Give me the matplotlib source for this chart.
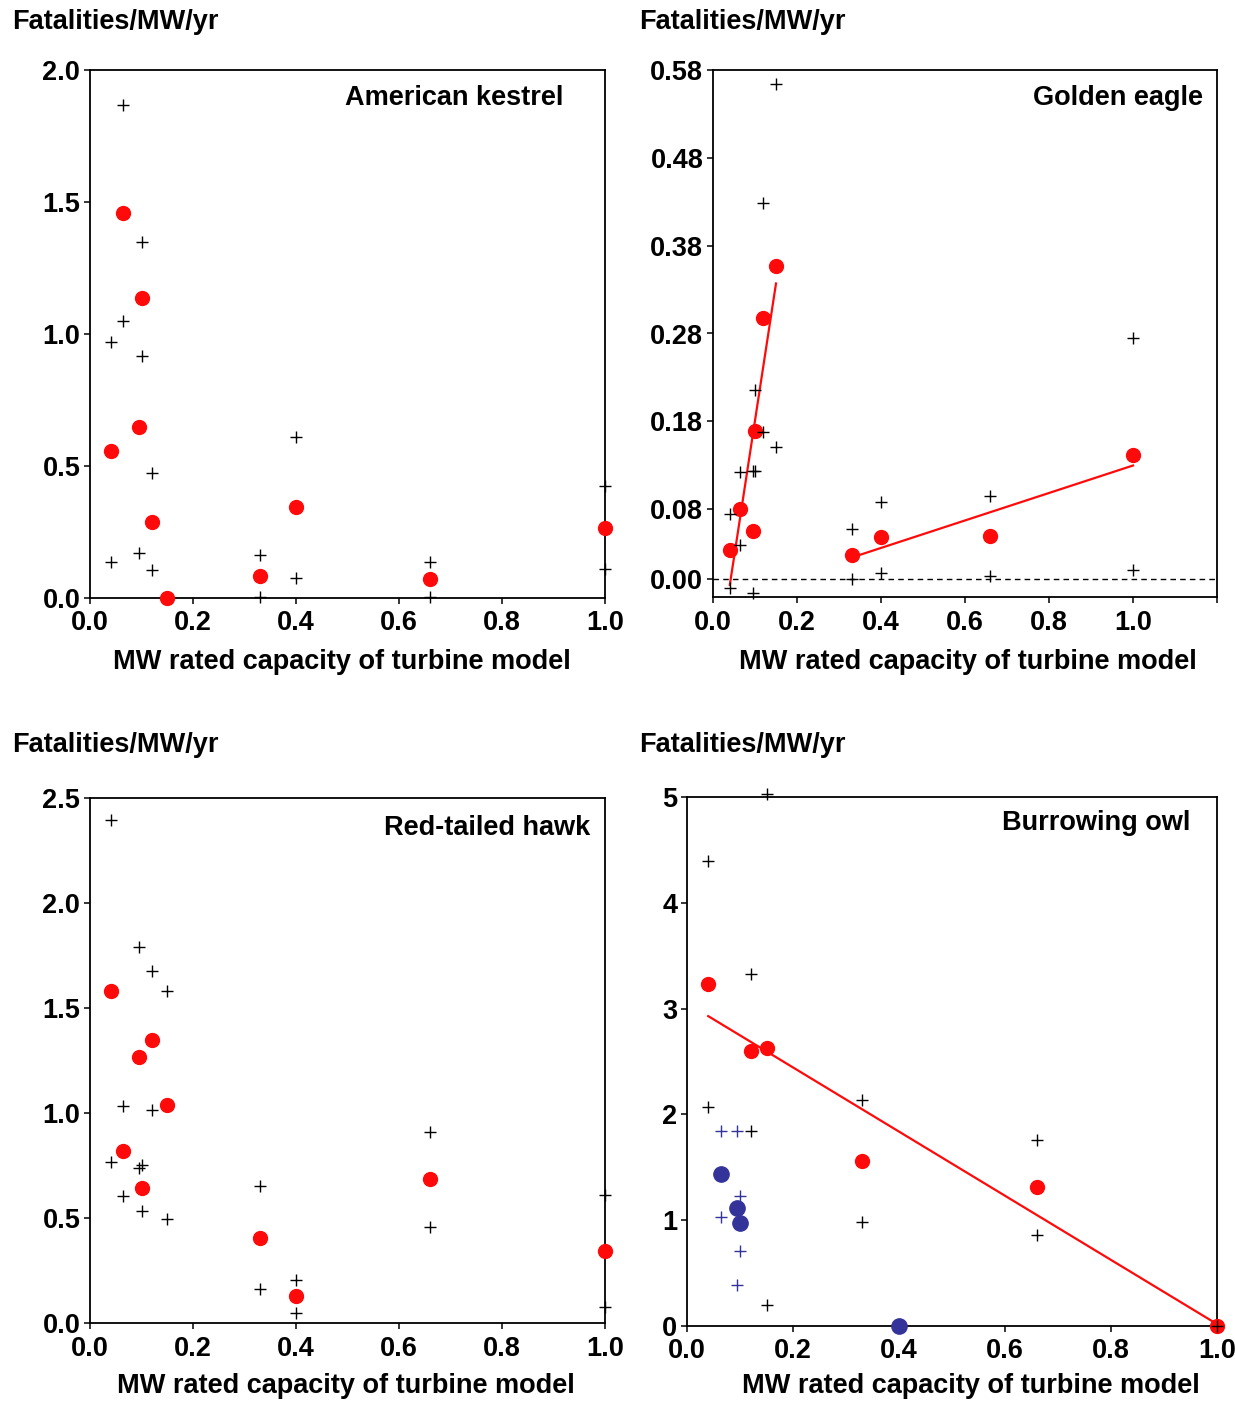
import matplotlib
matplotlib.use('Agg')
import numpy as np
import matplotlib.pyplot as plt
from matplotlib.ticker import FormatStrFormatter

# turbine-model means (red dots) and individual estimates (crosses)
kestrel_x = [0.04, 0.065, 0.095, 0.10, 0.12, 0.15, 0.33, 0.40, 0.66, 1.00]
kestrel_y = [0.555, 1.458, 0.648, 1.136, 0.289, 0.0, 0.082, 0.343, 0.072, 0.267]
kestrel_pts_x = [0.065, 0.10, 0.065, 0.04, 0.10, 0.12, 0.095, 0.04, 0.12,
                 0.40, 0.33, 0.40, 0.33, 0.66, 0.66, 1.00, 1.00]
kestrel_pts_y = [1.866, 1.35, 1.049, 0.971, 0.917, 0.472, 0.172, 0.136, 0.107,
                 0.61, 0.162, 0.075, 0.004, 0.136, 0.004, 0.424, 0.109]

eagle_x = [0.04, 0.065, 0.095, 0.10, 0.12, 0.15, 0.33, 0.40, 0.66, 1.00]
eagle_y = [0.033, 0.080, 0.055, 0.169, 0.298, 0.357, 0.028, 0.048, 0.049, 0.142]
eagle_pts_x = [0.15, 0.12, 1.00, 0.10, 0.12, 0.15, 0.065, 0.095, 0.10, 0.66,
               0.40, 0.04, 0.33, 0.065, 0.40, 0.66, 1.00, 0.33, 0.04, 0.095]
eagle_pts_y = [0.564, 0.429, 0.275, 0.2155, 0.168, 0.151, 0.1225, 0.124, 0.124, 0.095,
               0.088, 0.0745, 0.057, 0.039, 0.0076, 0.004, 0.011, 0.001, -0.0095, -0.016]

hawk_x = [0.04, 0.065, 0.095, 0.10, 0.12, 0.15, 0.33, 0.40, 0.66, 1.00]
hawk_y = [1.58, 0.819, 1.267, 0.644, 1.348, 1.039, 0.403, 0.127, 0.686, 0.342]
hawk_pts_x = [0.04, 0.095, 0.12, 0.15, 0.065, 0.12, 0.66, 0.04, 0.10, 0.095,
              0.33, 1.00, 0.065, 0.10, 0.15, 0.66, 0.40, 0.33, 0.40, 1.00]
hawk_pts_y = [2.393, 1.789, 1.676, 1.583, 1.033, 1.016, 0.909, 0.765, 0.754, 0.738,
              0.652, 0.609, 0.604, 0.532, 0.493, 0.455, 0.204, 0.16, 0.05, 0.074]

owl_x = [0.04, 0.12, 0.15, 0.33, 0.66, 1.00]
owl_y = [3.23, 2.60, 2.626, 1.56, 1.312, 0.0]
owl_pts_x = [0.15, 0.04, 0.12, 0.04, 0.33, 0.12, 0.66, 0.33, 0.66, 0.15, 1.00]
owl_pts_y = [5.025, 4.393, 3.33, 2.066, 2.132, 1.846, 1.761, 0.986, 0.863, 0.2, 0.0]
owl_blue_x = [0.065, 0.095, 0.10, 0.40]
owl_blue_y = [1.435, 1.118, 0.97, 0.0]
owl_blue_pts_x = [0.065, 0.095, 0.10, 0.065, 0.10, 0.095]
owl_blue_pts_y = [1.84, 1.846, 1.231, 1.027, 0.71, 0.386]

W, H = 1235, 1401
RED = '#ff0a0a'
BLUE = '#333399'
FS = 19.5

plt.rcParams['font.family'] = ['Liberation Sans', 'DejaVu Sans']
plt.rcParams['font.weight'] = 'bold'
plt.rcParams['font.size'] = FS

fig = plt.figure(figsize=(W / 100, H / 100), dpi=100)


def make_axes(left, right, top, bottom):
    ax = fig.add_axes([left / W, 1 - bottom / H, (right - left) / W, (bottom - top) / H])
    for s in ax.spines.values():
        s.set_linewidth(1.3)
    ax.tick_params(direction='out', length=4, width=1.1, labelsize=FS)
    ax.tick_params(axis='x', pad=5)
    ax.tick_params(axis='y', pad=3)
    return ax


def means(ax, x, y, color=RED, ms=10):
    ax.plot(x, y, ls='none', marker='o', ms=ms, color=color, clip_on=False, zorder=3)


def crosses(ax, x, y, color='black'):
    ax.plot(x, y, ls='none', marker='+', ms=8, mew=1.0, color=color, clip_on=False, zorder=4)


def trend(ax, x, y):
    x = np.asarray(x)
    coef = np.polyfit(x, np.asarray(y), 1)
    xs = np.array([x.min(), x.max()])
    ax.plot(xs, np.polyval(coef, xs), color=RED, lw=1.6, zorder=2)


def fig_text(x, y, s, ha='left'):
    fig.text(x / W, 1 - y / H, s, ha=ha, va='center', fontsize=FS, fontweight='bold')


# American kestrel
ax1 = make_axes(90, 605, 70, 598)
ax1.set_xlim(0, 1.0)
ax1.set_ylim(0, 2.0)
ax1.set_xticks(np.arange(0, 1.01, 0.2))
ax1.set_yticks(np.arange(0, 2.01, 0.5))
ax1.xaxis.set_major_formatter(FormatStrFormatter('%.1f'))
ax1.yaxis.set_major_formatter(FormatStrFormatter('%.1f'))
means(ax1, kestrel_x, kestrel_y)
crosses(ax1, kestrel_pts_x, kestrel_pts_y)

# Golden eagle
ax2 = make_axes(713, 1217, 70, 597)
ax2.set_xlim(0, 1.2)
ax2.set_ylim(-0.02, 0.58)
ax2.set_xticks(np.arange(0, 1.21, 0.2))
ax2.set_xticklabels(['0.0', '0.2', '0.4', '0.6', '0.8', '1.0', ''])
ax2.set_yticks([0.0, 0.08, 0.18, 0.28, 0.38, 0.48, 0.58])
ax2.yaxis.set_major_formatter(FormatStrFormatter('%.2f'))
ax2.axhline(0, color='black', lw=1.0, ls=(0, (4, 3)), zorder=1)
small = [i for i, v in enumerate(eagle_x) if v <= 0.15]
large = [i for i, v in enumerate(eagle_x) if v > 0.15]
trend(ax2, [eagle_x[i] for i in small], [eagle_y[i] for i in small])
trend(ax2, [eagle_x[i] for i in large], [eagle_y[i] for i in large])
means(ax2, eagle_x, eagle_y)
crosses(ax2, eagle_pts_x, eagle_pts_y)

# Red-tailed hawk
ax3 = make_axes(90, 605, 798, 1323)
ax3.set_xlim(0, 1.0)
ax3.set_ylim(0, 2.5)
ax3.set_xticks(np.arange(0, 1.01, 0.2))
ax3.set_yticks(np.arange(0, 2.51, 0.5))
ax3.xaxis.set_major_formatter(FormatStrFormatter('%.1f'))
ax3.yaxis.set_major_formatter(FormatStrFormatter('%.1f'))
means(ax3, hawk_x, hawk_y)
crosses(ax3, hawk_pts_x, hawk_pts_y)

# Burrowing owl
ax4 = make_axes(687, 1217, 797, 1326)
ax4.set_xlim(0, 1.0)
ax4.set_ylim(0, 5)
ax4.set_xticks(np.arange(0, 1.01, 0.2))
ax4.set_yticks(range(0, 6))
ax4.xaxis.set_major_formatter(FormatStrFormatter('%.1f'))
trend(ax4, owl_x, owl_y)
means(ax4, owl_x, owl_y)
means(ax4, owl_blue_x, owl_blue_y, color=BLUE, ms=11)
crosses(ax4, owl_pts_x, owl_pts_y)
crosses(ax4, owl_blue_pts_x, owl_blue_pts_y, color=BLUE)

for ax in (ax1, ax2, ax3, ax4):
    for lab in ax.get_xticklabels() + ax.get_yticklabels():
        lab.set_fontweight('bold')

# axis titles and species names
fig_text(12, 22, 'Fatalities/MW/yr')
fig_text(639, 22, 'Fatalities/MW/yr')
fig_text(12, 745, 'Fatalities/MW/yr')
fig_text(639, 745, 'Fatalities/MW/yr')

fig_text(563, 98, 'American kestrel', ha='right')
fig_text(1203, 98, 'Golden eagle', ha='right')
fig_text(590, 828, 'Red-tailed hawk', ha='right')
fig_text(1190, 823, 'Burrowing owl', ha='right')

xlab = 'MW rated capacity of turbine model'
fig_text(342, 662, xlab, ha='center')
fig_text(968, 662, xlab, ha='center')
fig_text(346, 1386, xlab, ha='center')
fig_text(971, 1386, xlab, ha='center')

fig.savefig('out.png', dpi=100)
